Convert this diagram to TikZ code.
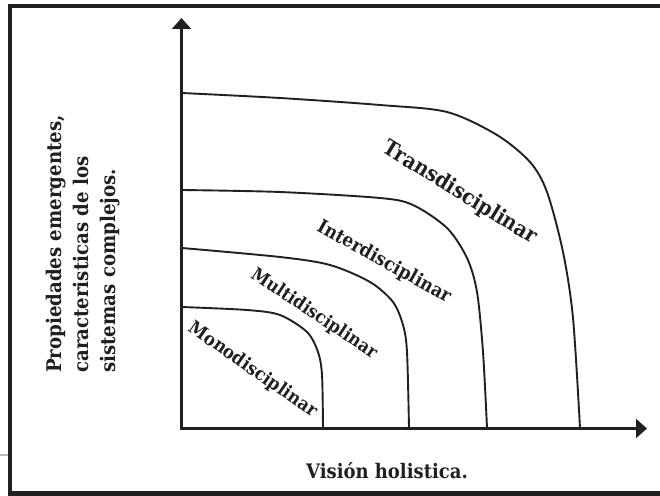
\documentclass[tikz,border=0pt]{standalone}
\usepackage{fontspec}
\setmainfont{DejaVu Serif Condensed}
\usetikzlibrary{arrows.meta}
\definecolor{ink}{RGB}{35,31,32}
\tikzset{
  axis/.style={line width=2.2pt, ink, line join=miter,
    {Triangle[length=11pt,width=19pt]}-{Triangle[length=11pt,width=19pt]}},
  level/.style={line width=1.9pt, ink},
  lbl/.style={ink, inner sep=0pt, font=\bfseries\fontsize{#1}{27}\selectfont},
}
\begin{document}
\begin{tikzpicture}[x=1pt,y=-1pt]
  \useasboundingbox (0,0) rectangle (660,495);

	% marco
	\draw[ink, line width=4.5pt] (665,5.8) -- (9.8,5.8) -- (9.8,493.5) -- (665,493.5);
	\draw[gray!55, line width=1.2pt] (0,455) -- (8,455);

	\coordinate (o) at (181.5,428.5);
	\coordinate (ytip) at (181.5,18);
	\coordinate (xtip) at (647,428.5);

	\draw[axis] (ytip) -- (o) -- (xtip);

	% niveles
	\draw[level] plot[smooth] coordinates {(182,307) (247,310) (280,315) (307,332) (318,352) (322,375) (323,428)};
	\draw[level] plot[smooth] coordinates {(182,248) (280,257) (330,265) (370,282) (393,302) (403,325) (407,352) (409,428)};
	\draw[level] plot[smooth] coordinates {(182,190) (280,192) (380,198) (413,205) (447,228) (467,258) (477,292) (483,352) (487,428)};
	\draw[level] plot[smooth] coordinates {(182,93) (280,98) (380,105) (447,112) (497,135) (530,162) (547,192) (563,252) (573,318) (580,428)};

	\node[lbl=18.4, rotate=-35] at (253,370) (mono) {Monodisciplinar};
	\node[lbl=18.1, rotate=-33.7] at (314,314) (multi) {Multidisciplinar};
	\node[lbl=18.9, rotate=-29] at (384,262) (inter) {Interdisciplinar};
	\node[lbl=21.5, rotate=-31.5] at (460,193) (trans) {Transdisciplinar};

	\node[lbl=20.2, rotate=90, anchor=west, align=left] at (83,373) (ytext)
		{Propiedades emergentes,\\caracteristicas de los\\sistemas complejos.};
	\node[lbl=20, anchor=base] at (387,478) (xtext) {Visión holistica.};

\end{tikzpicture}
\end{document}
